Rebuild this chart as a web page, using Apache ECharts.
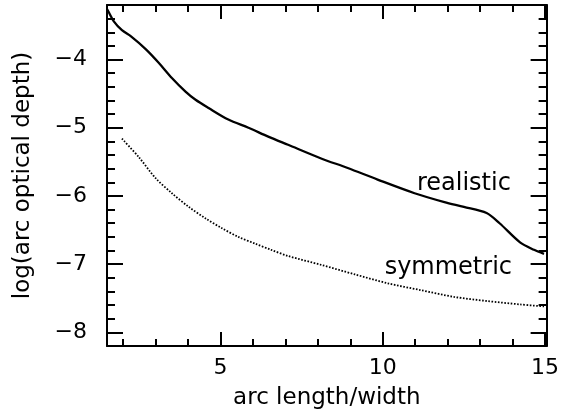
<!DOCTYPE html>
<html>
<head>
<meta charset="utf-8">
<style>
  html, body { margin: 0; padding: 0; background: #fff; }
  #chart { width: 562px; height: 415px; }
</style>
<script src="https://cdn.jsdelivr.net/npm/echarts@6/dist/echarts.min.js"></script>
</head>
<body>
<div id="chart"></div>
<script>
// realistic arc sample (solid line)
const realisticX = [1.5, 1.56, 1.71, 1.96, 2.24, 2.7, 3.1, 3.5, 3.92, 4.23, 4.63, 5.24, 5.86, 6.47, 7.08, 8.1, 8.92, 9.84, 10.98, 11.9, 12.5, 13.2, 13.6, 14.23, 14.66, 14.97];
const realisticY = [-3.26, -3.31, -3.44, -3.57, -3.66, -3.85, -4.05, -4.27, -4.47, -4.59, -4.71, -4.88, -5.0, -5.13, -5.25, -5.45, -5.59, -5.76, -5.96, -6.09, -6.16, -6.25, -6.4, -6.68, -6.79, -6.85];

// symmetric model (dotted line)
const symmetricX = [1.96, 2.48, 3.0, 3.5, 4.02, 4.54, 5.03, 5.55, 6.07, 6.56, 7.08, 8.1, 9.14, 10.15, 11.16, 12.2, 13.2, 14.23, 14.97];
const symmetricY = [-5.16, -5.43, -5.74, -5.96, -6.16, -6.33, -6.47, -6.6, -6.7, -6.79, -6.88, -7.01, -7.15, -7.28, -7.38, -7.48, -7.54, -7.59, -7.62];

const curveNames = ['realistic', 'symmetric'];
const curveLabelX = [12.5, 12.02];
const curveLabelY = [-5.82, -7.06];

const xMajor = [5, 10, 15];
const xMinor = [2, 3, 4, 6, 7, 8, 9, 11, 12, 13, 14];
const yMajor = [-8, -7, -6, -5, -4];
const yMinor = [-8.2, -7.8, -7.6, -7.4, -7.2, -6.8, -6.6, -6.4, -6.2, -5.8, -5.6, -5.4, -5.2, -4.8, -4.6, -4.4, -4.2, -3.8, -3.6, -3.4, -3.2];

const X_MIN = 1.5, X_MAX = 15.05;
const Y_MIN = -8.2, Y_MAX = -3.2;
const FONT = 'DejaVu Sans';
const INK = '#000';

const zip = (xs, ys) => xs.map((x, i) => [x, ys[i]]);

function xAx(position, ticks, len, withLine, withLabels) {
  return {
    type: 'value', position, min: X_MIN, max: X_MAX,
    axisLine: { show: withLine, onZero: false, lineStyle: { color: INK, width: 2 } },
    axisTick: { show: true, inside: true, length: len, customValues: ticks, lineStyle: { color: INK, width: 2 } },
    axisLabel: withLabels
      ? { show: true, customValues: ticks, margin: 11, color: INK, fontSize: 22, fontFamily: FONT }
      : { show: false },
    splitLine: { show: false },
  };
}

function yAx(position, ticks, len, withLine, withLabels) {
  return {
    type: 'value', position, min: Y_MIN, max: Y_MAX,
    axisLine: { show: withLine, onZero: false, lineStyle: { color: INK, width: 2 } },
    axisTick: { show: true, inside: true, length: len, customValues: ticks, lineStyle: { color: INK, width: 2 } },
    axisLabel: withLabels
      ? { show: true, customValues: ticks, margin: 20, color: INK, fontSize: 22, fontFamily: FONT,
          formatter: (v) => String(v).replace('-', '\u2212') }
      : { show: false },
    splitLine: { show: false },
  };
}

const chart = echarts.init(document.getElementById('chart'), null, { renderer: 'canvas' });

const xBottom = xAx('bottom', xMajor, 14, true, true);
Object.assign(xBottom, {
  name: 'arc length/width', nameLocation: 'middle', nameGap: 41,
  nameTextStyle: { color: INK, fontSize: 23, fontFamily: FONT },
});
const yLeft = yAx('left', yMajor, 16, true, true);
Object.assign(yLeft, {
  name: 'log(arc optical depth)', nameLocation: 'middle', nameGap: 72,
  nameTextStyle: { color: INK, fontSize: 23, fontFamily: FONT },
});

chart.setOption({
  backgroundColor: '#fff',
  animation: false,
  grid: { left: 107, right: 14, top: 5, bottom: 69, containLabel: false },
  xAxis: [
    xBottom,
    xAx('bottom', xMinor, 7, false, false),
    xAx('top', xMajor, 14, true, false),
    xAx('top', xMinor, 7, false, false),
  ],
  yAxis: [
    yLeft,
    yAx('left', yMinor, 8, false, false),
    yAx('right', yMajor, 16, true, false),
    yAx('right', yMinor, 8, false, false),
  ],
  series: [
    {
      name: 'realistic', type: 'line', xAxisIndex: 0, yAxisIndex: 0,
      data: zip(realisticX, realisticY),
      smooth: 0.3, symbol: 'none',
      lineStyle: { color: INK, width: 2.3 },
    },
    {
      name: 'symmetric', type: 'line', xAxisIndex: 0, yAxisIndex: 0,
      data: zip(symmetricX, symmetricY),
      smooth: 0.3, symbol: 'none',
      lineStyle: { color: INK, width: 1.8, type: [1.6, 1.6] },
    },
    {
      // curve annotations
      type: 'scatter', xAxisIndex: 0, yAxisIndex: 0,
      symbolSize: 0,
      itemStyle: { opacity: 1, color: INK },
      data: curveNames.map((n, i) => ({ name: n, value: [curveLabelX[i], curveLabelY[i]] })),
      label: {
        show: true, position: 'inside', formatter: (p) => p.name,
        color: INK, opacity: 1, fontSize: 24, fontFamily: FONT,
      },
      silent: true,
    },
  ],
});
</script>
</body>
</html>
